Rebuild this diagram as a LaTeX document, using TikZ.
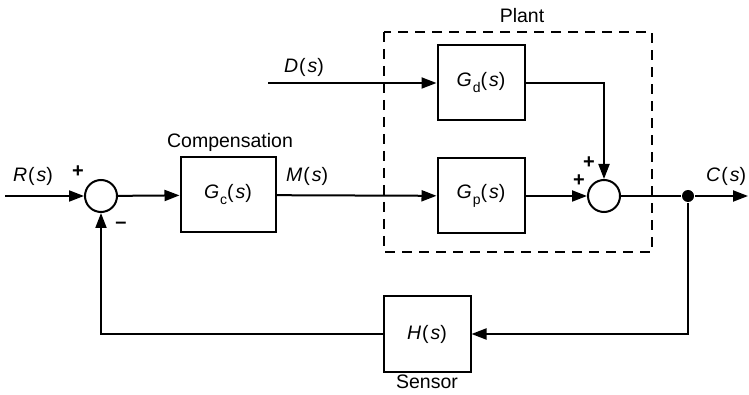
\documentclass[tikz,border=0pt]{standalone}
\usepackage{fontspec}
\setmainfont{Liberation Sans}
\usetikzlibrary{arrows.meta}
\newcommand{\vr}[1]{{\itshape #1}}
\newcommand{\sub}[1]{\raisebox{-6pt}{\fontsize{14}{14}\selectfont #1}}
\newcommand{\sig}[1]{\vr{#1}\hspace{1pt}(\hspace{2pt}\vr{s})}
\newcommand{\tf}[2]{\vr{#1}\hspace{1pt}\sub{#2}(\hspace{2pt}\vr{s})}
\begin{document}
\begin{tikzpicture}[x=1pt,y=-1pt,
  line width=2pt,
  every node/.style={font=\fontsize{19.5}{21}\selectfont},
  blk/.style={draw,minimum width=87pt,minimum height=75pt,inner sep=0pt},
  sumc/.style={draw,circle,minimum size=32pt,inner sep=0pt},
  arr/.style={-{Triangle[length=15pt,width=11pt]}},
  lbl/.style={inner sep=0pt},
  sgn/.style={inner sep=0pt,font=\fontsize{20}{20}\selectfont\bfseries}]
\useasboundingbox (0,0) rectangle (749,395);
% plant frame
\draw[dashed,dash pattern=on 10pt off 7pt,line width=1.6pt] (384,32) rectangle (652,252);
\node[lbl] (plant) at (522,16) {Plant};
% blocks
\node[sumc] (s1) at (101,196) {};
\node[blk,minimum width=95pt] (gc) at (228,195) {\tf{G}{c}};
\node[blk] (gd) at (481,83) {\tf{G}{d}};
\node[blk] (gp) at (481,196) {\tf{G}{p}};
\node[sumc] (s2) at (604,196) {};
\node[blk,minimum height=76pt] (h) at (427,334) {\sig{H}};
% coordinates
\coordinate (rin) at (5,196);
\coordinate (din) at (268,83);
\node[circle,fill,inner sep=0pt,minimum size=12pt] (j) at (688,196) {};
\coordinate (cout) at (748,196);
\coordinate (jb) at (688,334);
\coordinate (fb) at (101,334);
\coordinate (gdc) at (604,83);
% connectors
\draw[arr] (rin) -- (s1);
\draw[arr] (s1) -- (gc);
\draw[arr] (gc) -- (gp);
\draw[arr] (din) -- (gd);
\draw[arr] (gp) -- (s2);
\draw[arr] (gd.east) -- (gdc) -- (s2);
\draw (s2) -- (j);
\draw[arr] (j) -- (cout);
\draw[arr] (j) -- (jb) -- (h);
\draw[arr] (h) -- (fb) -- (s1);
% labels
\node[lbl] (rl) at (33,176) {\sig{R}};
\node[sgn] (p1) at (78,172) {+};
\node[sgn] (m1) at (121,225) {\textendash};
\node[lbl] (comp) at (230,142) {Compensation};
\node[lbl] (ml) at (307,176) {\sig{M}};
\node[lbl] (dl) at (304,67) {\sig{D}};
\node[sgn] (p2) at (589,163) {+};
\node[sgn] (p3) at (579,181) {+};
\node[lbl,anchor=east] (cl) at (747,176) {\sig{C}};
\node[lbl] (sens) at (427,382) {Sensor};
\end{tikzpicture}
\end{document}
